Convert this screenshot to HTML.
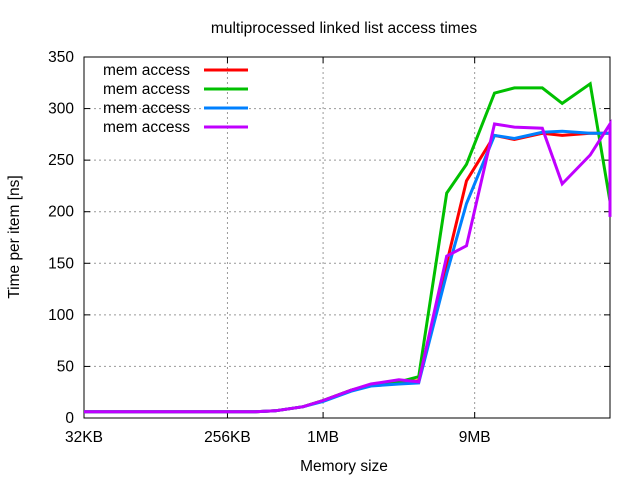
<!DOCTYPE html>
<html><head><meta charset="utf-8"><style>
body{margin:0;background:#fff;}
svg{display:block;font-family:"Liberation Sans",sans-serif;font-size:15.5px;}
</style></head><body>
<svg id="chart" width="640" height="480">
<text x="344" y="33" text-anchor="middle">multiprocessed linked list access times</text>
<text x="344" y="471" text-anchor="middle">Memory size</text>
<text transform="translate(19,237) rotate(-90)" text-anchor="middle">Time per item [ns]</text>
<g id="grid"></g><g id="axes"></g><g id="series"></g><g id="legend"></g>
</svg>
<script>
const sizesKB=[32,64,128,256,384,512,768,1024,1536,2048,3072,4096,6144,8192,12288,16384,24576,32768,49152,65536,65536];
const seriesRed=[6,6,6,6,6,7,11,17,27,32,35,36,150,230,274,270,276,274,276,276,276];
const seriesGreen=[6,6,6,6,6,7,11,17,27,32,35,40,218,246,315,320,320,305,324,210,197];
const seriesBlue=[6,6,6,6,6,7,11,16,26,31,33,34,140,208,274,271,277,278,276,276,221];
const seriesPurple=[6,6,6,6,6,7,11,17,27,33,37,35,157,167,285,282,281,227,255,285,195];
const yTicks=[0,50,100,150,200,250,300,350];
const xTickKB=[32,256,1024,9216];
const xTickLabels=["32KB","256KB","1MB","9MB"];
const legendLabels=["mem access","mem access","mem access","mem access"];
const colors=["#ff0000","#00c000","#0080ff","#c000ff"];
const L=84,R=610,T=57,B=418;
const xS=kb=>L+(Math.log2(kb)-5)/11*(R-L);
const yS=v=>B-v/350*(B-T);
const NS="http://www.w3.org/2000/svg";
function mk(tag,attrs,parent){const e=document.createElementNS(NS,tag);for(const k in attrs)e.setAttribute(k,attrs[k]);parent.appendChild(e);return e;}
const grid=document.getElementById('grid'),axes=document.getElementById('axes');
yTicks.forEach(v=>{const y=yS(v);
 if(v>0&&v<350){const g=mk('line',{x1:L,x2:R,y1:y,y2:y,stroke:'#999','stroke-dasharray':'2,3'},grid);
 
 }
 mk('line',{x1:L,x2:L+6,y1:y,y2:y,stroke:'#000'},axes);
 mk('line',{x1:R,x2:R-6,y1:y,y2:y,stroke:'#000'},axes);
 const t=mk('text',{x:L-10,y:y+5,'text-anchor':'end'},axes);t.textContent=v;
 
 
});
xTickKB.forEach((kb,i)=>{const x=xS(kb);
 if(i>0){const g=mk('line',{x1:x,x2:x,y1:T,y2:B,stroke:'#999','stroke-dasharray':'2,3'},grid);
 
 }
 mk('line',{x1:x,x2:x,y1:B,y2:B-6,stroke:'#000'},axes);
 mk('line',{x1:x,x2:x,y1:T,y2:T+6,stroke:'#000'},axes);
 const t=mk('text',{x:x,y:B+24,'text-anchor':'middle'},axes);t.textContent=xTickLabels[i];
 
 
});
const fr=mk('rect',{x:L,y:T,width:R-L,height:B-T,fill:'none',stroke:'#000'},axes);


const ser=document.getElementById('series'),leg=document.getElementById('legend');
[seriesRed,seriesGreen,seriesBlue,seriesPurple].forEach((s,i)=>{
 const pts=s.map((v,j)=>xS(sizesKB[j]).toFixed(1)+','+yS(v).toFixed(1)).join(' ');
 const p=mk('polyline',{points:pts,fill:'none',stroke:colors[i],'stroke-width':3,'stroke-linejoin':'miter'},ser);
 
 
 const y=70+i*19;
 const t=mk('text',{x:190,y:y+5,'text-anchor':'end'},leg);t.textContent=legendLabels[i];
 
 
 const l=mk('line',{x1:204,x2:248,y1:y,y2:y,stroke:colors[i],'stroke-width':3},leg);
 
 
});
</script>
</body></html>
